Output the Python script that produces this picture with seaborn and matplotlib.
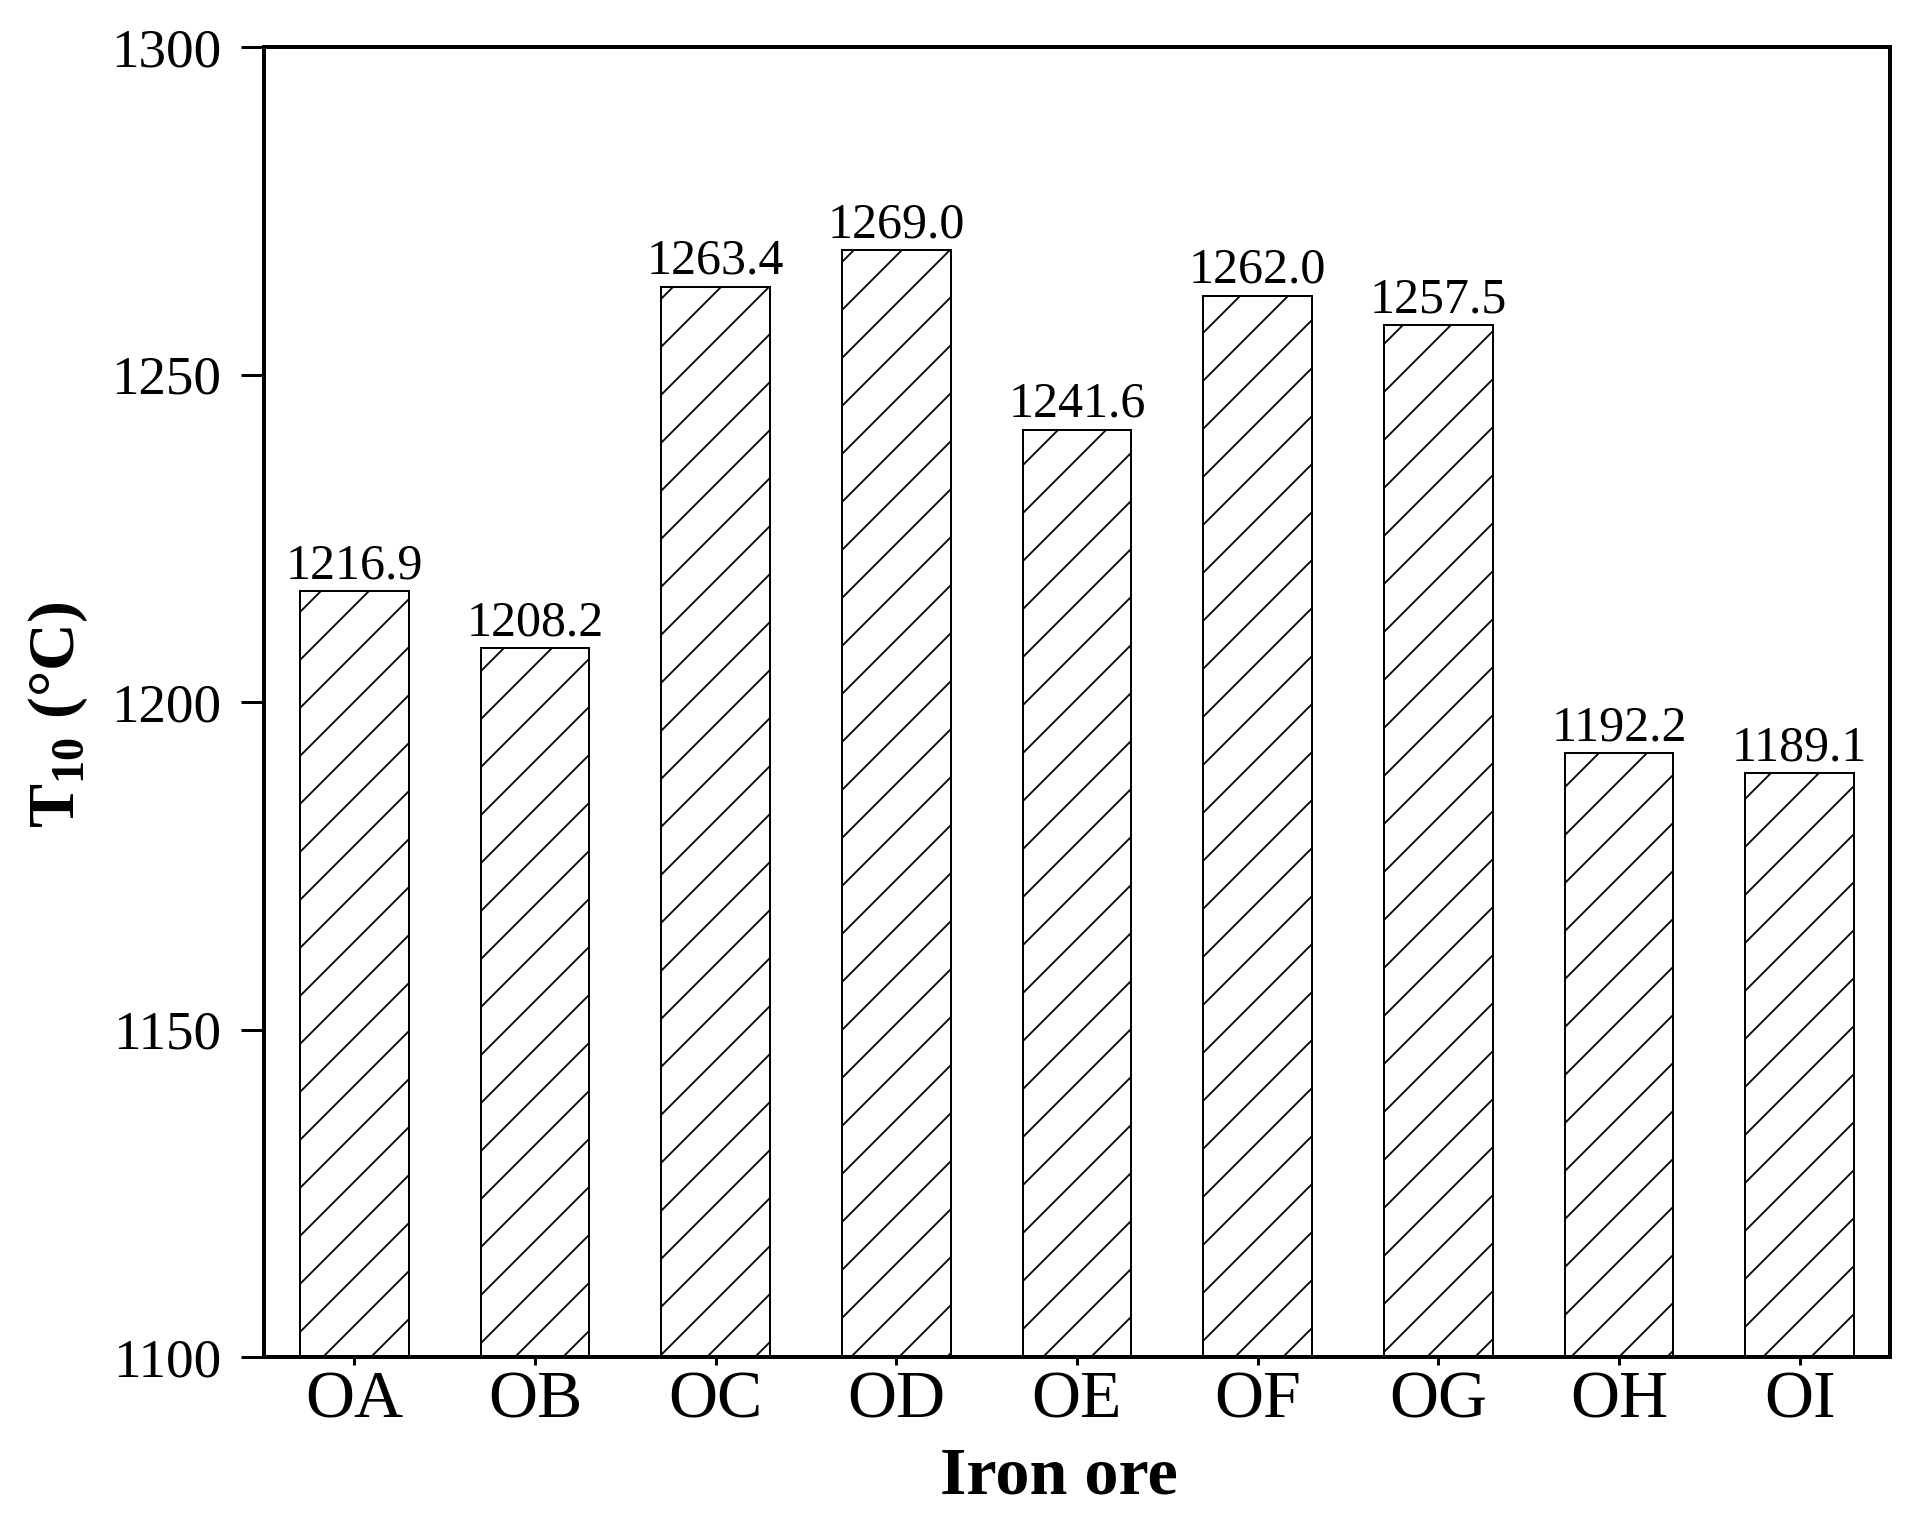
import matplotlib
matplotlib.use("Agg")
import matplotlib.pyplot as plt
import seaborn as sns
import pandas as pd

categories = ["OA", "OB", "OC", "OD", "OE", "OF", "OG", "OH", "OI"]
values = [1216.9, 1208.2, 1263.4, 1269.0, 1241.6, 1262.0, 1257.5, 1192.2, 1189.1]
yticks = [1100, 1150, 1200, 1250, 1300]

sns.set_theme(style="ticks")
plt.rcParams["font.family"] = ["Liberation Serif", "DejaVu Serif"]
plt.rcParams["mathtext.fontset"] = "custom"
plt.rcParams["mathtext.rm"] = "Liberation Serif"
plt.rcParams["mathtext.bf"] = "Liberation Serif:bold"
plt.rcParams["hatch.linewidth"] = 0.9
plt.rcParams["hatch.color"] = "black"
plt.rcParams["text.color"] = "black"
plt.rcParams["axes.labelcolor"] = "black"
plt.rcParams["xtick.color"] = "black"
plt.rcParams["ytick.color"] = "black"

df = pd.DataFrame({"ore": categories, "T10": values})

DPI = 144
fig = plt.figure(figsize=(1918 / DPI, 1538 / DPI), dpi=DPI)
ax = fig.add_axes([264 / 1918, 1 - 1357 / 1538, (1890 - 264) / 1918, (1357 - 47) / 1538])

sns.barplot(data=df, x="ore", y="T10", ax=ax, width=0.6, color="white",
            edgecolor="black", linewidth=1.0, errorbar=None, saturation=1)
for p in ax.patches:
    p.set_hatch("/")
    p.set_facecolor("white")
    p.set_edgecolor("black")

for c in ax.containers:
    ax.bar_label(c, labels=[f"{v:.1f}" for v in values], padding=1,
                 fontsize=25, color="black")

ax.set_xlim(-0.5, 8.5)
ax.set_ylim(1100, 1300)
ax.set_yticks(yticks)
ax.set_yticklabels([str(t) for t in yticks])

for s in ax.spines.values():
    s.set_linewidth(2.0)
    s.set_color("black")
    s.set_visible(True)

ax.tick_params(axis="y", direction="out", length=11.5, width=1.5, pad=10,
               labelsize=27.5, colors="black", right=False)
ax.tick_params(axis="x", direction="out", length=4, width=1.5, pad=3,
               labelsize=34, colors="black", top=False)

ax.set_xlabel("Iron ore", fontsize=34, fontweight="bold", color="black")
ax.set_ylabel(r"$\mathbf{T}_{\mathbf{10}}$ (°C)", fontsize=33, fontweight="bold", color="black")
ax.xaxis.set_label_coords(0.489, -0.068)
ax.yaxis.set_label_coords(-0.107, 0.49)

fig.savefig("out.png", dpi=DPI, facecolor="white")
